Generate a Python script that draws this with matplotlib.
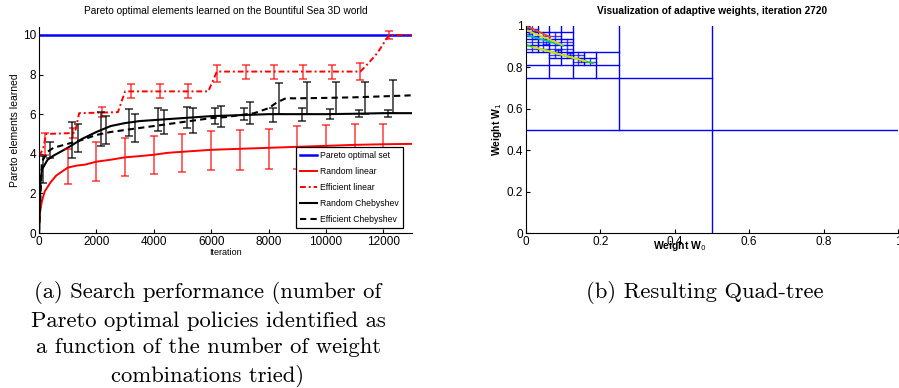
import numpy as np
import matplotlib
matplotlib.use('Agg')
import matplotlib.pyplot as plt

plt.rcParams['font.family'] = ['Liberation Sans', 'DejaVu Sans']

# ---- left panel data ----
x_max = 13000
pareto_level = 10

rl_x = [0, 30, 100, 200, 400, 600, 800, 1000, 1300, 1600, 2000, 2500, 3000, 3500,
        4000, 4500, 5000, 6000, 7000, 8000, 9000, 10000, 11000, 12000, 13000]
rl_y = [0, 1.0, 1.6, 2.1, 2.55, 2.9, 3.1, 3.3, 3.4, 3.45, 3.6, 3.7, 3.82, 3.88,
        3.95, 4.05, 4.1, 4.2, 4.25, 4.3, 4.35, 4.4, 4.45, 4.48, 4.5]
rl_bar_x = [1000, 2000, 3000, 4000, 5000, 6000, 7000, 8000, 9000, 10000, 11000, 12000]
rl_bar_lo = [2.45, 2.65, 2.9, 3.0, 3.1, 3.2, 3.2, 3.25, 3.25, 3.35, 3.4, 3.45]
rl_bar_hi = [4.25, 4.6, 4.8, 4.9, 5.0, 5.15, 5.2, 5.25, 5.4, 5.45, 5.5, 5.5]

el_x = [0, 50, 150, 250, 1250, 1400, 2750, 3000, 5900, 6200, 11200, 11500, 11800, 12200, 13000]
el_y = [3.9, 4.0, 4.3, 5.0, 5.05, 6.05, 6.1, 7.15, 7.15, 8.15, 8.15, 8.6, 9.1, 10.0, 10.0]
el_bar_x = [200, 1200, 2200, 3200, 4200, 5200, 6200, 7200, 8200, 9200, 10200, 11200, 12200]
el_bar_lo = [3.95, 4.8, 5.85, 6.8, 6.8, 6.8, 7.6, 7.8, 7.8, 7.8, 7.8, 7.7, 9.8]
el_bar_hi = [5.05, 5.3, 6.35, 7.5, 7.5, 7.5, 8.5, 8.5, 8.5, 8.5, 8.5, 8.6, 10.2]

rc_x = [0, 50, 100, 300, 500, 1000, 1500, 2000, 2500, 3000, 3500, 4000, 5000,
        6000, 7000, 8000, 9000, 10000, 11000, 12000, 13000]
rc_y = [0, 2.5, 3.2, 3.7, 3.9, 4.3, 4.75, 5.1, 5.4, 5.55, 5.65, 5.7, 5.8,
        5.9, 5.95, 6.0, 6.0, 6.0, 6.02, 6.05, 6.05]
rc_bar_x = [150, 1150, 2150, 3150, 4150, 5150, 6150, 7150, 8150, 9150, 10150, 11150, 12150]
rc_bar_lo = [2.5, 3.8, 4.4, 4.9, 5.15, 5.3, 5.5, 5.7, 5.6, 5.65, 5.75, 5.85, 5.85]
rc_bar_hi = [3.9, 5.6, 6.1, 6.25, 6.3, 6.35, 6.3, 6.3, 6.3, 6.3, 6.25, 6.2, 6.2]

ec_x = [0, 100, 300, 500, 1000, 1500, 2000, 2500, 3000, 3500, 4000, 4500, 5000,
        5500, 6000, 6500, 7000, 7500, 8000, 8300, 8600, 9000, 10000, 11000, 12000, 13000]
ec_y = [0, 3.6, 4.1, 4.3, 4.5, 4.7, 4.95, 5.1, 5.2, 5.3, 5.4, 5.5, 5.6,
        5.7, 5.8, 5.85, 5.95, 6.05, 6.3, 6.6, 6.8, 6.8, 6.82, 6.85, 6.9, 6.95]
ec_bar_x = [400, 1350, 2350, 3350, 4350, 5350, 6350, 7350, 8350, 9350, 10350, 11350, 12350]
ec_bar_lo = [3.8, 4.1, 4.5, 4.6, 5.0, 5.05, 5.35, 5.5, 6.0, 6.0, 6.0, 6.0, 6.05]
ec_bar_hi = [4.6, 5.5, 5.9, 6.0, 6.2, 6.3, 6.4, 6.6, 7.55, 7.6, 7.6, 7.6, 7.7]

# ---- right panel data: quad-tree split nodes (lower-left x, lower-left y, size) ----
split_x = [0, 0, 0, 0, 0, 0.125,
           0, 0.0625, 0, 0.0625, 0.0625, 0.125,
           0, 0, 0.03125, 0.0625, 0.0625, 0.09375, 0.125, 0.125, 0.15625,
           0, 0, 0.03125, 0.03125, 0.0625, 0.0625, 0.09375, 0.09375,
           0, 0, 0.015625, 0.015625, 0.046875, 0.078125, 0.109375, 0.140625]
split_y = [0, 0.5, 0.75, 0.875, 0.75, 0.75,
           0.9375, 0.9375, 0.875, 0.875, 0.8125, 0.8125,
           0.875, 0.90625, 0.875, 0.875, 0.84375, 0.84375, 0.84375, 0.8125, 0.8125,
           0.96875, 0.9375, 0.9375, 0.90625, 0.90625, 0.9375, 0.90625, 0.875,
           0.984375, 0.953125, 0.96875, 0.9375, 0.90625, 0.875, 0.859375, 0.828125]
split_size = [1, 0.5, 0.25, 0.125, 0.125, 0.125,
              0.0625, 0.0625, 0.0625, 0.0625, 0.0625, 0.0625,
              0.03125, 0.03125, 0.03125, 0.03125, 0.03125, 0.03125, 0.03125, 0.03125, 0.03125,
              0.03125, 0.03125, 0.03125, 0.03125, 0.03125, 0.03125, 0.03125, 0.03125,
              0.015625, 0.015625, 0.015625, 0.015625, 0.015625, 0.015625, 0.015625, 0.015625]

# weight-space lines of the Pareto front (x0, y0, x1, y1)
front_x0 = [0, 0, 0, 0, 0.02]
front_y0 = [0.957, 0.908, 0.981, 1.0, 0.898]
front_x1 = [0.1, 0.18, 0.096, 0.065, 0.16]
front_y1 = [0.905, 0.82, 0.91, 0.947, 0.83]
front_col = ['#00c0a0', '#20d020', '#d8d800', '#e04a10', '#d8e000']

fig = plt.figure(figsize=(8.99, 3.88), dpi=100)
W, H = 899, 388


def box(l, t, r, b):
    return [l / W, 1 - b / H, (r - l) / W, (b - t) / H]


# ---------------- left panel ----------------
ax1 = fig.add_axes(box(39, 27, 412, 233))
ax1.plot([0, x_max], [pareto_level, pareto_level], color='#0000ff', lw=1.8, label='Pareto optimal set')
ax1.plot(rl_x, rl_y, color='#ff0000', lw=1.4, label='Random linear')
ax1.plot(el_x, el_y, color='#ff0000', lw=1.4, ls=(0, (3, 1.5, 1, 1.5)), label='Efficient linear')
ax1.plot(rc_x, rc_y, color='black', lw=1.5, label='Random Chebyshev')
ax1.plot(ec_x, ec_y, color='black', lw=1.5, ls=(0, (3, 2)), label='Efficient Chebyshev')


def bars(ax, x, lo, hi, col, alpha):
    lo = np.array(lo)
    hi = np.array(hi)
    mid = (lo + hi) / 2
    ax.errorbar(x, mid, yerr=[mid - lo, hi - mid], fmt='none', ecolor=col,
                elinewidth=1.2, capsize=3, capthick=1.2, alpha=alpha)


bars(ax1, rl_bar_x, rl_bar_lo, rl_bar_hi, '#ff0000', 0.7)
bars(ax1, el_bar_x, el_bar_lo, el_bar_hi, '#ff0000', 0.7)
bars(ax1, rc_bar_x, rc_bar_lo, rc_bar_hi, '#000000', 0.75)
bars(ax1, ec_bar_x, ec_bar_lo, ec_bar_hi, '#000000', 0.75)

ax1.set_xlim(0, x_max)
ax1.set_ylim(0, 10.4)
ax1.set_xticks(range(0, 12001, 2000))
ax1.set_yticks(range(0, 11, 2))
ax1.tick_params(direction='in', labelsize=8.5, length=3, pad=2)
for s in ['top', 'right']:
    ax1.spines[s].set_visible(False)
ax1.set_title('Pareto optimal elements learned on the Bountiful Sea 3D world', fontsize=7.3, pad=9)
ax1.set_ylabel('Pareto elements learned', fontsize=7.5, labelpad=2)
ax1.set_xlabel('Iteration', fontsize=6.5, labelpad=0)
leg = ax1.legend(loc='lower right', bbox_to_anchor=(0.976, 0.024), fontsize=6.2,
                 fancybox=False, edgecolor='black', framealpha=1, borderaxespad=0,
                 handlelength=2.0, labelspacing=0.8, borderpad=0.5, handletextpad=0.3)
leg.get_frame().set_linewidth(0.9)

# ---------------- right panel ----------------
ax2 = fig.add_axes(box(526, 26, 898, 233))
for x0, y0, s in zip(split_x, split_y, split_size):
    a = 1.0 if s >= 0.0625 else 0.75
    ax2.plot([x0 + s / 2, x0 + s / 2], [y0, y0 + s], color='#0000ff', lw=1.0, alpha=a)
    ax2.plot([x0, x0 + s], [y0 + s / 2, y0 + s / 2], color='#0000ff', lw=1.0, alpha=a)
for x0, y0, x1, y1, c in zip(front_x0, front_y0, front_x1, front_y1, front_col):
    ax2.plot([x0, x1], [y0, y1], color=c, lw=1.3)

ax2.set_xlim(0, 1)
ax2.set_ylim(0, 1)
ax2.set_xticks(np.arange(0, 1.01, 0.2))
ax2.set_yticks(np.arange(0, 1.01, 0.2))
ax2.set_xticklabels(['0', '0.2', '0.4', '0.6', '0.8', '1'])
ax2.set_yticklabels(['0', '0.2', '0.4', '0.6', '0.8', '1'])
ax2.tick_params(direction='in', labelsize=8.5, length=3, pad=2)
for s in ['top', 'right']:
    ax2.spines[s].set_visible(False)
ax2.set_title('Visualization of adaptive weights, iteration 2720', fontsize=7.3,
              fontweight='bold', pad=9)
ax2.set_ylabel('Weight W$_1$', fontsize=7.5, fontweight='bold', labelpad=2)
ax2.set_xlabel('Weight W$_0$', fontsize=7.5, fontweight='bold')
ax2.xaxis.set_label_coords(0.414, -0.03)

# ---------------- captions ----------------
cap_font = ['cmr10', 'DejaVu Serif']
fig.text(208 / W, 1 - 281 / H,
         '(a) Search performance (number of\nPareto optimal policies identified as\n'
         'a function of the number of weight\ncombinations tried)',
         ha='center', va='top', fontsize=16.3, family=cap_font, linespacing=1.46)
fig.text(705 / W, 1 - 281 / H, '(b) Resulting Quad-tree',
         ha='center', va='top', fontsize=16.3, family=cap_font)

fig.savefig('out.png', dpi=100)
